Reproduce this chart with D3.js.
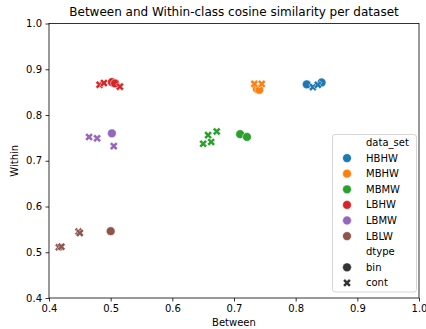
<!DOCTYPE html>
<html>
<head>
<meta charset="utf-8">
<script src="https://cdn.jsdelivr.net/npm/d3@7"></script>
<style>
  html, body { margin: 0; padding: 0; background: #fff; }
  svg text { font-family: "DejaVu Sans", sans-serif; fill: #000; }
</style>
</head>
<body>
<svg id="chart" width="426" height="329"></svg>
<script>
// Data sets (hue) and their colours
const dataSets = ["HBHW", "MBHW", "MBMW", "LBHW", "LBMW", "LBLW"];
const palette = ["#1f77b4", "#ff7f0e", "#2ca02c", "#d62728", "#9467bd", "#8c564b"];
const dtypes = ["bin", "cont"];

// Between / Within similarity values per data set and dtype
const hbhwBin = [[0.818, 0.867], [0.842, 0.871]];
const hbhwCont = [[0.828, 0.861], [0.836, 0.866]];
const mbhwBin = [[0.737, 0.857], [0.741, 0.855]];
const mbhwCont = [[0.733, 0.868], [0.745, 0.868]];
const mbmwBin = [[0.710, 0.758], [0.721, 0.752]];
const mbmwCont = [[0.650, 0.737], [0.658, 0.756], [0.663, 0.741], [0.672, 0.764]];
const lbhwBin = [[0.502, 0.872], [0.507, 0.869]];
const lbhwCont = [[0.482, 0.866], [0.489, 0.870], [0.515, 0.862]];
const lbmwBin = [[0.502, 0.760]];
const lbmwCont = [[0.465, 0.752], [0.478, 0.749], [0.505, 0.732]];
const lblwBin = [[0.500, 0.546]];
const lblwCont = [[0.416, 0.511], [0.420, 0.512], [0.448, 0.545], [0.450, 0.542]];

const xTicks = [0.4, 0.5, 0.6, 0.7, 0.8, 0.9, 1.0];
const yTicks = [0.4, 0.5, 0.6, 0.7, 0.8, 0.9, 1.0];

const rows = [];
function add(set, dtype, pts) {
  pts.forEach(([b, w]) => rows.push({ set, dtype, between: b, within: w }));
}
add("HBHW", "bin", hbhwBin); add("HBHW", "cont", hbhwCont);
add("MBHW", "bin", mbhwBin); add("MBHW", "cont", mbhwCont);
add("MBMW", "bin", mbmwBin); add("MBMW", "cont", mbmwCont);
add("LBHW", "bin", lbhwBin); add("LBHW", "cont", lbhwCont);
add("LBMW", "bin", lbmwBin); add("LBMW", "cont", lbmwCont);
add("LBLW", "bin", lblwBin); add("LBLW", "cont", lblwCont);

const svg = d3.select("#chart");
const m = { left: 49, right: 419, top: 23.5, bottom: 298 };

const x = d3.scaleLinear().domain([0.4, 1.0]).range([m.left, m.right]);
const y = d3.scaleLinear().domain([0.4, 1.0]).range([m.bottom, m.top]);
const color = d3.scaleOrdinal().domain(dataSets).range(palette);

// Filled "X" marker (a plus rotated by 45 degrees)
const plus = [[-1, -3], [1, -3], [1, -1], [3, -1], [3, 1], [1, 1], [1, 3], [-1, 3], [-1, 1], [-3, 1], [-3, -1], [-1, -1]];
function xMarkerPath(size) {
  const s = size / 6, c = Math.SQRT1_2;
  const p = plus.map(([a, b]) => [(a - b) * c * s, (a + b) * c * s]);
  return "M" + p.map(d => d[0].toFixed(2) + "," + d[1].toFixed(2)).join("L") + "Z";
}
const crossPath = xMarkerPath(8.6);
const circleR = 4.4;

// Axes
const xAxis = d3.axisBottom(x).tickValues(xTicks).tickFormat(d3.format(".1f")).tickSizeOuter(0).tickSize(3.5).tickPadding(3.5);
const yAxis = d3.axisLeft(y).tickValues(yTicks).tickFormat(d3.format(".1f")).tickSizeOuter(0).tickSize(3.5).tickPadding(3.5);

const gx = svg.append("g").attr("transform", `translate(0,${m.bottom})`).call(xAxis);
const gy = svg.append("g").attr("transform", `translate(${m.left},0)`).call(yAxis);
[gx, gy].forEach(g => {
  g.select(".domain").remove();
  g.selectAll(".tick line").attr("stroke", "#000").attr("stroke-width", 0.8);
  g.selectAll(".tick text").attr("font-size", 10).style("font-family", "DejaVu Sans, sans-serif");
});

// Points
const pts = svg.append("g");
rows.forEach(r => {
  const cx = x(r.between), cy = y(r.within);
  if (r.dtype === "bin") {
    pts.append("circle").attr("cx", cx).attr("cy", cy).attr("r", circleR)
      .attr("fill", color(r.set)).attr("stroke", "#fff").attr("stroke-width", 0.5);
  } else {
    pts.append("path").attr("d", crossPath).attr("transform", `translate(${cx},${cy})`)
      .attr("fill", color(r.set)).attr("stroke", "#fff").attr("stroke-width", 0.5);
  }
});

// Frame
svg.append("rect").attr("x", m.left).attr("y", m.top)
  .attr("width", m.right - m.left).attr("height", m.bottom - m.top)
  .attr("fill", "none").attr("stroke", "#000").attr("stroke-width", 0.8);

// Title and axis labels
svg.append("text").attr("x", (m.left + m.right) / 2).attr("y", 16)
  .attr("text-anchor", "middle").attr("font-size", 12)
  .text("Between and Within-class cosine similarity per dataset");
svg.append("text").attr("x", (m.left + m.right) / 2).attr("y", 326)
  .attr("text-anchor", "middle").attr("font-size", 10).text("Between");
svg.append("text").attr("transform", `translate(18,${(m.top + m.bottom) / 2}) rotate(-90)`)
  .attr("text-anchor", "middle").attr("font-size", 10).text("Within");

// Legend
const lg = svg.append("g");
lg.append("rect").attr("x", 332.5).attr("y", 134.5).attr("width", 84).attr("height", 157.5)
  .attr("rx", 2.5).attr("fill", "#fff").attr("fill-opacity", 0.8)
  .attr("stroke", "#ccc").attr("stroke-width", 0.8);
const rowY = i => 142.5 + i * 15.6;
const items = [{ label: "data_set", head: true }]
  .concat(dataSets.map(s => ({ label: s, kind: "hue", set: s })))
  .concat([{ label: "dtype", head: true }])
  .concat(dtypes.map(d => ({ label: d, kind: "style", dtype: d })));
items.forEach((it, i) => {
  const yy = rowY(i);
  lg.append("text").attr("x", 366).attr("y", yy).attr("dy", "0.35em")
    .attr("font-size", 10).attr("fill", "#262626").text(it.label);
  if (it.kind === "hue") {
    lg.append("circle").attr("cx", 347).attr("cy", yy).attr("r", circleR)
      .attr("fill", color(it.set)).attr("stroke", "#fff").attr("stroke-width", 0.5);
  } else if (it.kind === "style") {
    if (it.dtype === "bin") {
      lg.append("circle").attr("cx", 347).attr("cy", yy).attr("r", circleR)
        .attr("fill", "#333").attr("stroke", "#fff").attr("stroke-width", 0.5);
    } else {
      lg.append("path").attr("d", crossPath).attr("transform", `translate(347,${yy})`)
        .attr("fill", "#333").attr("stroke", "#fff").attr("stroke-width", 0.5);
    }
  }
});
</script>
</body>
</html>
